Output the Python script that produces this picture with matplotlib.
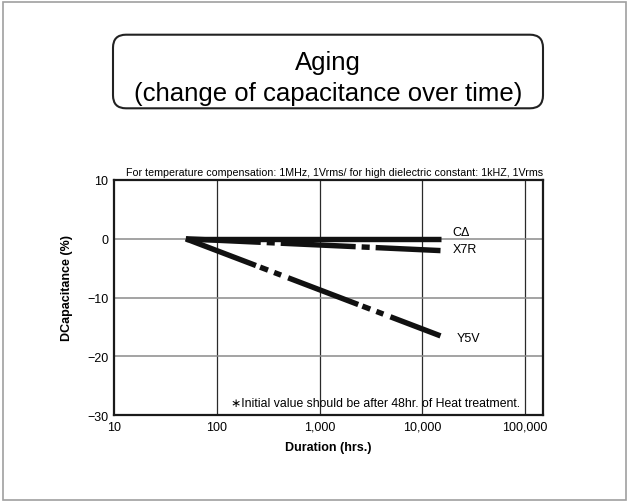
import matplotlib
matplotlib.use('Agg')
import matplotlib.pyplot as plt
from matplotlib import font_manager
from matplotlib.patches import FancyBboxPatch, Rectangle
from matplotlib.transforms import IdentityTransform

# data
hours = [50, 15000]
c_delta = [0.0, 0.0]
x7r = [0.0, -2.0]
y5v = [0.0, -16.5]
xticks = [10, 100, 1000, 10000, 100000]
xtick_labels = ['10', '100', '1,000', '10,000', '100,000']
yticks = [10, 0, -10, -20, -30]
ytick_labels = ['10', '0', '\u221210', '\u221220', '\u221230']

plt.rcParams['font.family'] = ['Liberation Sans', 'DejaVu Sans']
plt.rcParams['lines.scale_dashes'] = False

W, H = 629, 502
fig = plt.figure(figsize=(W / 100, H / 100), dpi=100)

def px(x, y):
    return x / W, 1 - y / H

left, top, right, bottom = 114, 181, 543.3, 416.3
ax = fig.add_axes([left / W, 1 - bottom / H, (right - left) / W, (bottom - top) / H])
ax.set_xscale('log')
ax.set_xlim(10, 150000)
ax.set_ylim(-30, 10)

ax.set_xticks(xticks)
ax.set_xticklabels(xtick_labels)
ax.set_yticks(yticks)
ax.set_yticklabels(ytick_labels)
ax.minorticks_off()
ax.tick_params(length=0, labelsize=9, pad=4)

for x in xticks[1:]:
    ax.axvline(x, color='#2a2a2a', lw=0.9, zorder=1)
for y in [0, -10, -20]:
    ax.axhline(y, color='#8a8a8a', lw=1.1, zorder=1)
for s in ax.spines.values():
    s.set_linewidth(1.6)
    s.set_color('#1a1a1a')

lw = 3.9
ax.plot(hours, c_delta, color='#111111', lw=lw, solid_capstyle='butt', zorder=3)
l1, = ax.plot(hours, x7r, color='#111111', lw=lw, zorder=3)
l1.set_dashes([54, 4.3, 5.8, 4.3])
l2, = ax.plot(hours, y5v, color='#111111', lw=lw, zorder=3)
l2.set_dashes([54, 3.2, 6.1, 4.7, 5.4, 5.4])

ax.annotate('C\u0394', (hours[-1], c_delta[-1]), xytext=(8.5, 5), textcoords='offset points',
            fontsize=9, va='center', ha='left')
ax.annotate('X7R', (hours[-1], x7r[-1]), xytext=(8.5, 1.5), textcoords='offset points',
            fontsize=9, va='center', ha='left')
ax.annotate('Y5V', (hours[-1], y5v[-1]), xytext=(11.5, -1.7), textcoords='offset points',
            fontsize=9, va='center', ha='left')

ax.set_xlabel('Duration (hrs.)', fontsize=9, fontweight='bold')
ax.xaxis.set_label_coords((328 - left) / (right - left), (bottom - 448) / (bottom - top))
ax.xaxis.label.set_va('center')
ax.set_ylabel('DCapacitance (%)', fontsize=9, fontweight='bold')
ax.yaxis.set_label_coords((67 - left) / (right - left), (bottom - 288) / (bottom - top))
ax.yaxis.label.set_va('center')

subtitle = 'For temperature compensation: 1MHz, 1Vrms/ for high dielectric constant: 1kHZ, 1Vrms'
names = {f.name for f in font_manager.fontManager.ttflist}
if 'Liberation Sans Narrow' in names:
    fig.text(*px(542.7, 172.7), subtitle, family=['Liberation Sans Narrow', 'DejaVu Sans'],
             fontsize=8.3, ha='right', va='center')
else:
    fig.text(*px(542.7, 172.7), subtitle, fontsize=7.7, ha='right', va='center')

fig.text(*px(520, 404), '\u2217Initial value should be after 48hr. of Heat treatment.',
         fontsize=8.8, ha='right', va='center')

# title box
box = FancyBboxPatch((113, H - 109.3), 430, 73.6, boxstyle='round,pad=0,rounding_size=13',
                     transform=IdentityTransform(), fill=False, ec='#222222', lw=1.5)
fig.add_artist(box)
fig.text(*px(328, 63), 'Aging', fontsize=18.5, ha='center', va='center')
fig.text(*px(328, 94), '(change of capacitance over time)', fontsize=18.5, ha='center', va='center')

# page border
fig.add_artist(Rectangle((3, 1.5), W - 6, H - 4.5, transform=IdentityTransform(),
                         fill=False, ec='#a0a0a0', lw=1.2))

fig.savefig('out.png', dpi=100)
